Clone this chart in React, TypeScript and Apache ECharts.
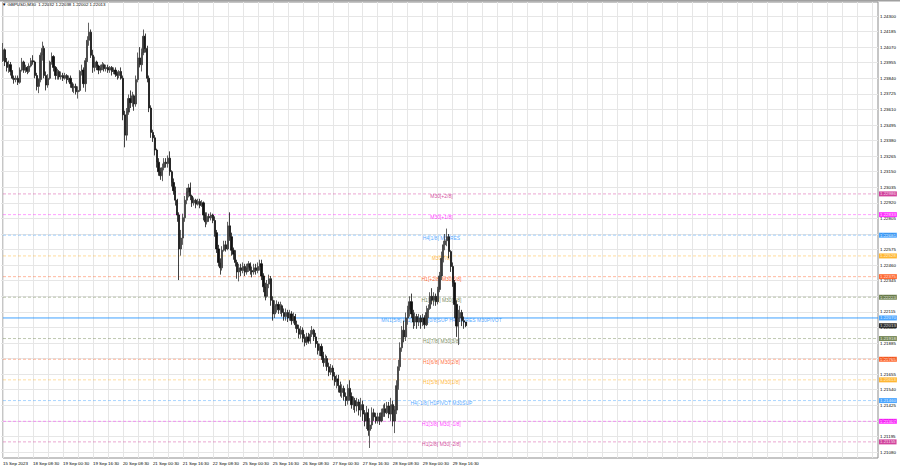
import React, { useEffect, useRef } from 'react';
import * as echarts from 'echarts';

// Hourly OHLC bars, each [open, close, low, high]
const sep15 = [
  [1.2397,1.2405,1.2396,1.2410],[1.2405,1.2396,1.2393,1.2406],[1.2396,1.2392,1.2389,1.2399],[1.2392,1.2394,1.2388,1.2397],
  [1.2394,1.2389,1.2386,1.2396],[1.2389,1.2384,1.2383,1.2390],[1.2384,1.2383,1.2380,1.2386],[1.2383,1.2384,1.2381,1.2386]];
const sep18 = [
  [1.2384,1.2381,1.2379,1.2386],[1.2381,1.2390,1.2380,1.2392],[1.2390,1.2396,1.2389,1.2399],[1.2396,1.2390,1.2388,1.2397],
  [1.2390,1.2392,1.2388,1.2394],[1.2392,1.2389,1.2387,1.2393],[1.2389,1.2393,1.2388,1.2395],[1.2393,1.2397,1.2392,1.2399],
  [1.2397,1.2396,1.2394,1.2401],[1.2396,1.2386,1.2384,1.2397],[1.2386,1.2378,1.2375,1.2388],[1.2378,1.2383,1.2373,1.2384],
  [1.2383,1.2401,1.2381,1.2403],[1.2401,1.2406,1.2397,1.2411],[1.2406,1.2386,1.2384,1.2408],[1.2386,1.2379,1.2375,1.2389],
  [1.2379,1.2384,1.2377,1.2387],[1.2384,1.2396,1.2383,1.2397],[1.2396,1.2400,1.2394,1.2403],[1.2400,1.2392,1.2389,1.2401],
  [1.2392,1.2386,1.2383,1.2393],[1.2386,1.2389,1.2383,1.2391],[1.2389,1.2385,1.2383,1.2390],[1.2385,1.2386,1.2383,1.2389]];
const sep19 = [
  [1.2386,1.2384,1.2382,1.2388],[1.2384,1.2386,1.2383,1.2388],[1.2386,1.2383,1.2380,1.2387],[1.2383,1.2384,1.2381,1.2386],
  [1.2384,1.2380,1.2377,1.2386],[1.2380,1.2377,1.2374,1.2381],[1.2377,1.2378,1.2373,1.2380],[1.2378,1.2374,1.2372,1.2380],
  [1.2374,1.2375,1.2369,1.2378],[1.2375,1.2389,1.2374,1.2390],[1.2389,1.2390,1.2386,1.2394],[1.2390,1.2380,1.2377,1.2392],
  [1.2380,1.2397,1.2374,1.2399],[1.2397,1.2412,1.2396,1.2415],[1.2412,1.2418,1.2408,1.2425],[1.2418,1.2401,1.2399,1.2420],
  [1.2401,1.2392,1.2388,1.2405],[1.2392,1.2396,1.2389,1.2400],[1.2396,1.2393,1.2390,1.2397],[1.2393,1.2390,1.2387,1.2394],
  [1.2390,1.2392,1.2388,1.2394],[1.2392,1.2394,1.2390,1.2396],[1.2394,1.2391,1.2389,1.2395],[1.2391,1.2392,1.2389,1.2394]];
const sep20 = [
  [1.2392,1.2390,1.2388,1.2394],[1.2390,1.2392,1.2388,1.2393],[1.2392,1.2389,1.2386,1.2393],[1.2389,1.2390,1.2387,1.2392],
  [1.2390,1.2387,1.2385,1.2392],[1.2387,1.2386,1.2383,1.2389],[1.2386,1.2389,1.2384,1.2390],[1.2389,1.2384,1.2383,1.2392],
  [1.2384,1.2357,1.2353,1.2386],[1.2357,1.2342,1.2333,1.2360],[1.2342,1.2359,1.2338,1.2362],[1.2359,1.2369,1.2357,1.2372],
  [1.2369,1.2366,1.2362,1.2375],[1.2366,1.2371,1.2363,1.2374],[1.2371,1.2365,1.2360,1.2372],[1.2365,1.2383,1.2363,1.2386],
  [1.2383,1.2399,1.2381,1.2403],[1.2399,1.2394,1.2392,1.2407],[1.2394,1.2403,1.2389,1.2406],[1.2403,1.2415,1.2401,1.2420],
  [1.2415,1.2406,1.2403,1.2417],[1.2406,1.2384,1.2381,1.2408],[1.2384,1.2362,1.2359,1.2386],[1.2362,1.2344,1.2340,1.2364]];
const sep21 = [
  [1.2344,1.2340,1.2337,1.2346],[1.2340,1.2331,1.2327,1.2342],[1.2331,1.2322,1.2318,1.2332],[1.2322,1.2315,1.2312,1.2325],
  [1.2315,1.2312,1.2309,1.2318],[1.2312,1.2318,1.2308,1.2321],[1.2318,1.2322,1.2316,1.2325],[1.2322,1.2321,1.2318,1.2325],
  [1.2321,1.2325,1.2318,1.2327],[1.2325,1.2315,1.2312,1.2330],[1.2315,1.2307,1.2304,1.2316],[1.2307,1.2301,1.2298,1.2310],
  [1.2301,1.2294,1.2290,1.2304],[1.2294,1.2283,1.2278,1.2295],[1.2283,1.2258,1.2235,1.2285],[1.2258,1.2266,1.2253,1.2272],
  [1.2266,1.2281,1.2261,1.2284],[1.2281,1.2294,1.2278,1.2297],[1.2294,1.2300,1.2291,1.2303],[1.2300,1.2303,1.2296,1.2306],
  [1.2303,1.2297,1.2294,1.2307],[1.2297,1.2292,1.2289,1.2298],[1.2292,1.2294,1.2290,1.2296],[1.2294,1.2291,1.2288,1.2295]];
const sep22 = [
  [1.2291,1.2293,1.2290,1.2295],[1.2293,1.2290,1.2288,1.2295],[1.2290,1.2292,1.2289,1.2294],[1.2292,1.2283,1.2279,1.2293],
  [1.2283,1.2278,1.2274,1.2285],[1.2278,1.2282,1.2276,1.2285],[1.2282,1.2281,1.2278,1.2284],[1.2281,1.2283,1.2279,1.2285],
  [1.2283,1.2279,1.2277,1.2284],[1.2279,1.2270,1.2267,1.2282],[1.2270,1.2258,1.2255,1.2272],[1.2258,1.2248,1.2245,1.2261],
  [1.2248,1.2244,1.2239,1.2251],[1.2244,1.2257,1.2242,1.2260],[1.2257,1.2261,1.2256,1.2264],[1.2261,1.2258,1.2256,1.2264],
  [1.2258,1.2275,1.2257,1.2278],[1.2275,1.2267,1.2264,1.2285],[1.2267,1.2257,1.2253,1.2270],[1.2257,1.2254,1.2250,1.2259],
  [1.2254,1.2248,1.2245,1.2257],[1.2248,1.2241,1.2236,1.2250],[1.2241,1.2244,1.2234,1.2247],[1.2244,1.2242,1.2238,1.2247]];
const sep25 = [
  [1.2242,1.2245,1.2240,1.2248],[1.2245,1.2241,1.2238,1.2247],[1.2241,1.2244,1.2239,1.2247],[1.2244,1.2247,1.2241,1.2249],
  [1.2247,1.2242,1.2239,1.2248],[1.2242,1.2241,1.2237,1.2245],[1.2241,1.2244,1.2239,1.2247],[1.2244,1.2242,1.2239,1.2247],
  [1.2242,1.2245,1.2240,1.2248],[1.2245,1.2247,1.2242,1.2250],[1.2247,1.2238,1.2235,1.2250],[1.2238,1.2230,1.2226,1.2240],
  [1.2230,1.2223,1.2220,1.2233],[1.2223,1.2232,1.2222,1.2235],[1.2232,1.2236,1.2229,1.2239],[1.2236,1.2220,1.2216,1.2238],
  [1.2220,1.2210,1.2205,1.2223],[1.2210,1.2216,1.2207,1.2220],[1.2216,1.2217,1.2211,1.2220],[1.2217,1.2213,1.2210,1.2219],
  [1.2213,1.2216,1.2210,1.2219],[1.2216,1.2211,1.2208,1.2217],[1.2211,1.2208,1.2205,1.2214],[1.2208,1.2211,1.2205,1.2214]];
const sep26 = [
  [1.2211,1.2207,1.2204,1.2213],[1.2207,1.2210,1.2205,1.2213],[1.2210,1.2205,1.2202,1.2212],[1.2205,1.2208,1.2203,1.2211],
  [1.2208,1.2202,1.2199,1.2210],[1.2202,1.2199,1.2196,1.2205],[1.2199,1.2195,1.2192,1.2202],[1.2195,1.2198,1.2192,1.2201],
  [1.2198,1.2192,1.2189,1.2200],[1.2192,1.2189,1.2186,1.2195],[1.2189,1.2193,1.2187,1.2196],[1.2193,1.2190,1.2188,1.2196],
  [1.2190,1.2195,1.2188,1.2198],[1.2195,1.2198,1.2193,1.2201],[1.2198,1.2193,1.2190,1.2199],[1.2193,1.2188,1.2185,1.2196],
  [1.2188,1.2183,1.2180,1.2190],[1.2183,1.2186,1.2179,1.2188],[1.2186,1.2179,1.2176,1.2188],[1.2179,1.2174,1.2171,1.2182],
  [1.2174,1.2177,1.2171,1.2180],[1.2177,1.2171,1.2168,1.2179],[1.2171,1.2167,1.2164,1.2174],[1.2167,1.2170,1.2165,1.2173]];
const sep27 = [
  [1.2170,1.2164,1.2161,1.2172],[1.2164,1.2160,1.2157,1.2167],[1.2160,1.2162,1.2155,1.2165],[1.2162,1.2157,1.2152,1.2165],
  [1.2157,1.2152,1.2149,1.2160],[1.2152,1.2155,1.2148,1.2158],[1.2155,1.2149,1.2146,1.2157],[1.2149,1.2146,1.2142,1.2152],
  [1.2146,1.2155,1.2143,1.2158],[1.2155,1.2149,1.2146,1.2161],[1.2149,1.2143,1.2140,1.2152],[1.2143,1.2146,1.2139,1.2149],
  [1.2146,1.2142,1.2137,1.2148],[1.2142,1.2145,1.2138,1.2148],[1.2145,1.2139,1.2135,1.2147],[1.2139,1.2143,1.2134,1.2148],
  [1.2143,1.2136,1.2131,1.2146],[1.2136,1.2131,1.2127,1.2139],[1.2131,1.2137,1.2125,1.2142],[1.2137,1.2124,1.2120,1.2140],
  [1.2124,1.2128,1.2111,1.2133],[1.2128,1.2137,1.2125,1.2141],[1.2137,1.2134,1.2131,1.2140],[1.2134,1.2131,1.2129,1.2137]];
const sep28 = [
  [1.2131,1.2134,1.2129,1.2137],[1.2134,1.2131,1.2128,1.2137],[1.2131,1.2137,1.2130,1.2140],[1.2137,1.2140,1.2134,1.2143],
  [1.2140,1.2137,1.2134,1.2144],[1.2137,1.2142,1.2136,1.2145],[1.2142,1.2136,1.2133,1.2145],[1.2136,1.2143,1.2131,1.2148],
  [1.2143,1.2131,1.2127,1.2146],[1.2131,1.2139,1.2122,1.2142],[1.2139,1.2157,1.2136,1.2161],[1.2157,1.2171,1.2154,1.2176],
  [1.2171,1.2185,1.2168,1.2189],[1.2185,1.2198,1.2182,1.2201],[1.2198,1.2193,1.2189,1.2205],[1.2193,1.2207,1.2190,1.2211],
  [1.2207,1.2213,1.2202,1.2216],[1.2213,1.2219,1.2208,1.2223],[1.2219,1.2210,1.2207,1.2225],[1.2210,1.2204,1.2199,1.2213],
  [1.2204,1.2208,1.2201,1.2211],[1.2208,1.2204,1.2199,1.2210],[1.2204,1.2207,1.2201,1.2210],[1.2207,1.2204,1.2199,1.2209]];
const sep29 = [
  [1.2204,1.2207,1.2201,1.2210],[1.2207,1.2202,1.2199,1.2209],[1.2202,1.2211,1.2201,1.2216],[1.2211,1.2214,1.2207,1.2217],
  [1.2214,1.2223,1.2213,1.2226],[1.2223,1.2220,1.2217,1.2229],[1.2220,1.2223,1.2216,1.2226],[1.2223,1.2219,1.2216,1.2225],
  [1.2219,1.2228,1.2217,1.2230],[1.2228,1.2238,1.2226,1.2241],[1.2238,1.2251,1.2235,1.2256],[1.2251,1.2261,1.2248,1.2264],
  [1.2261,1.2264,1.2257,1.2269],[1.2264,1.2267,1.2260,1.2273],[1.2267,1.2256,1.2251,1.2269],[1.2256,1.2245,1.2241,1.2257],
  [1.2245,1.2233,1.2230,1.2248],[1.2233,1.2217,1.2207,1.2235],[1.2217,1.2201,1.2193,1.2220],[1.2201,1.2207,1.2187,1.2213],
  [1.2207,1.2211,1.2204,1.2216],[1.2211,1.2205,1.2201,1.2213],[1.2205,1.2204,1.2199,1.2208],[1.2204,1.22013,1.22002,1.22038]];

const timeTicks = ['15 Sep 2023', '18 Sep 08:30', '19 Sep 00:30', '19 Sep 16:30', '20 Sep 08:30', '21 Sep 00:30',
  '21 Sep 16:30', '22 Sep 08:30', '25 Sep 00:30', '25 Sep 16:30', '26 Sep 08:30', '27 Sep 00:30', '27 Sep 16:30',
  '28 Sep 08:30', '29 Sep 00:30', '29 Sep 16:30'];

const priceTicks = ['1.21080', '1.21195', '1.21310', '1.21425', '1.21540', '1.21655', '1.21770', '1.21885', '1.22000',
  '1.22115', '1.22230', '1.22345', '1.22460', '1.22575', '1.22690', '1.22805', '1.22920', '1.23035', '1.23150',
  '1.23265', '1.23380', '1.23495', '1.23610', '1.23725', '1.23840', '1.23955', '1.24070', '1.24185', '1.24300'];

const levelPrices = [1.22986, 1.22833, 1.22681, 1.22528, 1.22375, 1.22223, 1.22070, 1.21918, 1.21765, 1.21613, 1.21460, 1.21307, 1.21155];
const levelNames = ['M30[+2/8]', 'M30[+1/8]', 'H4[1/8] M30RES', 'M30[7/8]', 'H1[+2/8] M30[6/8]', 'H1[+1/8] M30[5/8]',
  'MN1[5/8] W1[5/8] D1[0/8]SUP H4[0/8]RES M30PIVOT', 'H1[7/8] M30[3/8]', 'H1[6/8] M30[2/8]', 'H1[5/8] M30[1/8]',
  'H4[-1/8] H1PIVOT M30SUP', 'H1[3/8] M30[-1/8]', 'H1[2/8] M30[-2/8]'];
const levelColors = ['#c71585', '#ff00ff', '#1e90ff', '#ffa500', '#ff4500', '#556b2f', '#1e90ff', '#556b2f', '#ff4500',
  '#ffa500', '#1e90ff', '#ff00ff', '#c71585'];
const levelSolid = [false, false, false, false, false, false, true, false, false, false, false, false, false];

const lastPrice = 1.22013;
const titleText = '▼ GBPUSD,M30  1.22032 1.22038 1.22002 1.22013';

const TOTAL_SLOTS = 468;
const MID_SLOT = 234;
const Y_MIN = 1.21036;
const Y_MAX = 1.24403;
const FONT = '"Liberation Sans", Arial, sans-serif';

export default function App() {
  const ref = useRef<HTMLDivElement>(null);
  useEffect(() => {
    if (!ref.current) return;
    const chart = echarts.init(ref.current, undefined, { renderer: 'svg' });
    const ohlc = [sep15, sep18, sep19, sep20, sep21, sep22, sep25, sep26, sep27, sep28, sep29].flat();
    const cats = Array.from({ length: TOTAL_SLOTS }, (_, i) => String(i));
    const LAST = TOTAL_SLOTS - 1;

    const levelLineSeries = levelPrices.map((p, i) => ({
      type: 'line',
      xAxisIndex: 0,
      yAxisIndex: 0,
      silent: true,
      symbol: 'none',
      z: 1,
      data: [[0, p], [LAST, p]],
      lineStyle: {
        color: levelColors[i],
        type: levelSolid[i] ? 'solid' : [3, 2],
        width: 1,
        opacity: levelSolid[i] ? 0.85 : 0.38,
      },
    }));

    const nameLabels = {
      type: 'scatter',
      xAxisIndex: 0,
      yAxisIndex: 0,
      silent: true,
      symbolSize: 0,
      z: 2,
      data: levelPrices.map((p, i) => ({
        value: [MID_SLOT, p],
        label: { color: levelColors[i] },
      })),
      label: {
        show: true,
        position: 'inside',
        offset: [0, 2.5],
        fontSize: 5,
        fontFamily: FONT,
        formatter: (prm: any) => levelNames[prm.dataIndex],
      },
    };

    const boxPrices = [...levelPrices, lastPrice];
    const boxColors = [...levelColors, '#000'];
    const priceBoxes = {
      type: 'scatter',
      xAxisIndex: 0,
      yAxisIndex: 0,
      silent: true,
      symbolSize: 0,
      z: 5,
      data: boxPrices.map((p, i) => ({
        value: [LAST, p],
        label: { backgroundColor: boxColors[i] },
      })),
      label: {
        show: true,
        position: 'right',
        distance: 1,
        color: '#fff',
        padding: [1, 1, 0, 1],
        fontSize: 4.4,
        fontFamily: FONT,
        formatter: (prm: any) => boxPrices[prm.dataIndex].toFixed(5),
      },
    };

    chart.setOption({
      animation: false,
      backgroundColor: '#fff',
      textStyle: { fontFamily: FONT },
      title: {
        text: titleText,
        left: 2,
        top: 2,
        padding: 0,
        textStyle: { fontSize: 4.4, fontWeight: 'normal', color: '#000', fontFamily: FONT },
      },
      graphic: [
        { type: 'rect', shape: { x: 0, y: 0, width: 900, height: 1.5 }, style: { fill: '#a0a0a0' }, silent: true },
      ],
      grid: [
        { left: 1, right: 22, top: 2, bottom: 10, show: true, borderColor: '#8c8c8c', borderWidth: 1, backgroundColor: 'transparent' },
        { left: 1, right: 22, top: 16, bottom: 16, show: false },
      ],
      xAxis: [
        {
          type: 'category',
          gridIndex: 0,
          data: cats,
          boundaryGap: false,
          axisLine: { show: false },
          axisTick: { show: false },
          axisLabel: {
            show: true,
            interval: (i: number) => i % 16 === 0 && i / 16 < timeTicks.length,
            formatter: (_v: string, i: number) => timeTicks[Math.round(i / 16)] ?? '',
            align: 'left',
            margin: 3,
            fontSize: 4.4,
            color: '#000',
            fontFamily: FONT,
          },
          splitLine: {
            show: true,
            interval: (i: number) => i % 8 === 0,
            lineStyle: { color: '#e6e6e6', width: 1 },
          },
        },
        { type: 'category', gridIndex: 1, data: cats, boundaryGap: false, show: false },
      ],
      yAxis: [
        { type: 'value', gridIndex: 0, min: Y_MIN, max: Y_MAX, show: false, splitLine: { show: false } },
        {
          type: 'value',
          gridIndex: 1,
          min: 0,
          max: priceTicks.length - 1,
          interval: 1,
          position: 'right',
          axisLine: { show: false },
          axisTick: { show: false },
          axisLabel: {
            margin: 2,
            fontSize: 4.4,
            color: '#000',
            fontFamily: FONT,
            formatter: (v: number) => priceTicks[Math.round(v)] ?? '',
          },
          splitLine: { show: true, lineStyle: { color: '#e6e6e6', width: 1 } },
        },
      ],
      series: [
        ...levelLineSeries,
        nameLabels,
        {
          type: 'candlestick',
          xAxisIndex: 0,
          yAxisIndex: 0,
          z: 3,
          data: ohlc,
          barWidth: 1.7,
          itemStyle: {
            color: '#3a3a3a',
            color0: '#111',
            borderColor: '#3a3a3a',
            borderColor0: '#111',
            borderWidth: 0.8,
          },
        },
        priceBoxes,
      ],
    });
    return () => chart.dispose();
  }, []);
  return (
    <div
      ref={ref}
      style={{ position: 'fixed', left: 0, top: 0, width: 900, height: 468, background: '#fff' }}
    />
  );
}
